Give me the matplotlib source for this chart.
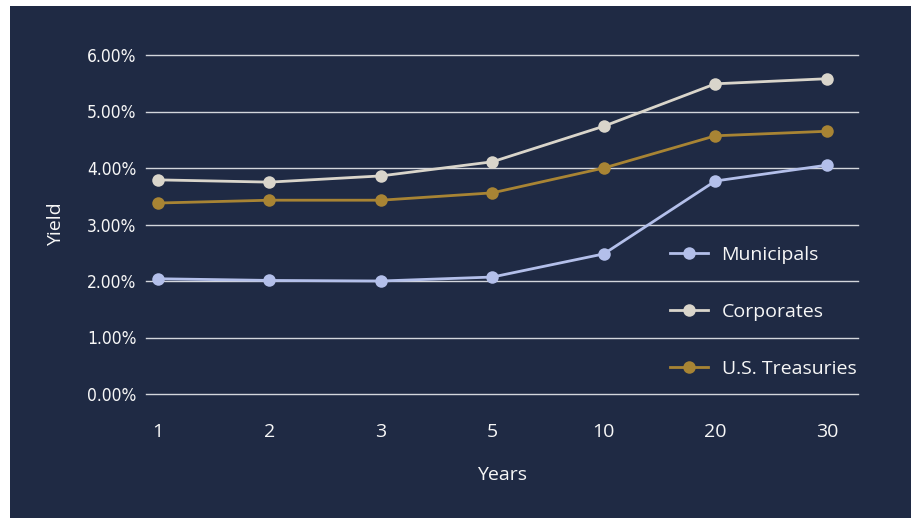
import matplotlib

matplotlib.use("Agg")
import matplotlib.pyplot as plt
from matplotlib.patches import Rectangle

# Yield curve by maturity (percent)
MATURITIES = ["1", "2", "3", "5", "10", "20", "30"]
MUNICIPALS = [2.04, 2.01, 2.00, 2.07, 2.48, 3.77, 4.05]
CORPORATES = [3.79, 3.75, 3.86, 4.11, 4.74, 5.49, 5.58]
TREASURIES = [3.38, 3.43, 3.43, 3.56, 4.00, 4.57, 4.65]
Y_TICKS = [0, 1, 2, 3, 4, 5, 6]

BG = "#1f2a44"
TEXT = "#f7f7f7"
GRID = "#d3d6dc"
SERIES = [
    ("Municipals", MUNICIPALS, "#b3bfea"),
    ("Corporates", CORPORATES, "#d9d5cb"),
    ("U.S. Treasuries", TREASURIES, "#a88434"),
]

plt.rcParams["font.family"] = ["Open Sans", "DejaVu Sans"]

fig = plt.figure(figsize=(9.12, 5.18), dpi=100, facecolor="white")
# navy panel, leaving a thin white strip on the left and top
fig.patches.append(
    Rectangle((10 / 912, 0), 1, (518 - 6) / 518, transform=fig.transFigure,
              facecolor=BG, edgecolor="none", zorder=-10)
)
ax = fig.add_axes([146 / 912, (518 - 394) / 518, (858 - 146) / 912, (394 - 55) / 518])
ax.set_facecolor("none")

x = range(len(MATURITIES))
for name, vals, color in SERIES:
    ax.plot(x, vals, color=color, lw=2.0, marker="o", markersize=9,
            markeredgewidth=0, label=name, zorder=3)

ax.set_ylim(0, 6)
ax.set_xlim(-0.108, 6.28)
ax.set_yticks(Y_TICKS)
ax.set_yticklabels([f"{v:.2f}%" for v in Y_TICKS],
                   family=["Liberation Sans Narrow", "DejaVu Sans"],
                   stretch="condensed", fontsize=12.5, color=TEXT)
ax.set_xticks(list(x))
ax.set_xticklabels(MATURITIES, fontsize=14, color=TEXT)
ax.tick_params(axis="y", length=0, pad=7)
ax.tick_params(axis="x", length=0, pad=21)
ax.grid(axis="y", color=GRID, lw=1.0, zorder=1)
for gl in ax.get_ygridlines():
    gl.set_clip_on(False)
for s in ax.spines.values():
    s.set_visible(False)

ax.set_xlabel("Years", fontsize=14, color=TEXT, labelpad=18)
ax.set_ylabel("Yield", fontsize=14, color=TEXT, labelpad=16)

leg = ax.legend(frameon=False, loc="upper left",
                bbox_to_anchor=(670 / 912, (518 - 246) / 518),
                bbox_transform=fig.transFigure, borderpad=0, borderaxespad=0,
                handlelength=1.95, handletextpad=0.7, labelspacing=2.0,
                fontsize=14)
for t in leg.get_texts():
    t.set_color(TEXT)

fig.savefig("out.png", dpi=100, facecolor=fig.get_facecolor())
